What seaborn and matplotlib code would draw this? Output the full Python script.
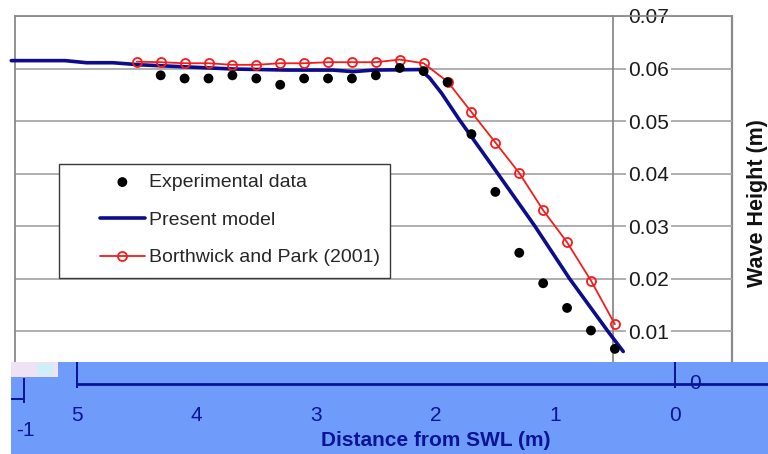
import matplotlib
matplotlib.use("Agg")
import matplotlib.pyplot as plt
from matplotlib.patches import Rectangle
import seaborn as sns
import pandas as pd

# ---------------- data ----------------
exp_x = [4.3, 4.1, 3.9, 3.7, 3.5, 3.3, 3.1, 2.9, 2.7, 2.5, 2.3, 2.1, 1.9, 1.7,
         1.5, 1.3, 1.1, 0.9, 0.7, 0.5]
exp_y = [0.0587, 0.0581, 0.0581, 0.0587, 0.0581, 0.0569, 0.0581, 0.0581, 0.0581,
         0.0587, 0.0601, 0.0595, 0.0574, 0.0475, 0.0365, 0.0249, 0.0191, 0.0144,
         0.0101, 0.0066]

model_x = [5.55, 5.10, 4.92, 4.70, 4.47, 4.08, 3.69, 3.24, 2.86, 2.69, 2.52, 2.13,
           2.05, 1.95, 1.80, 1.48, 1.17, 0.88, 0.56, 0.43]
model_y = [0.0615, 0.0615, 0.0611, 0.0611, 0.0607, 0.0603, 0.0599, 0.0597, 0.0597,
           0.0594, 0.0597, 0.0598, 0.0582, 0.0553, 0.0502, 0.0400, 0.0300, 0.0200,
           0.0100, 0.0061]

bp_x = [4.5, 4.3, 4.1, 3.9, 3.7, 3.5, 3.3, 3.1, 2.9, 2.7, 2.5, 2.3, 2.1, 1.9,
        1.7, 1.5, 1.3, 1.1, 0.9, 0.7, 0.5]
bp_y = [0.0613, 0.0612, 0.0610, 0.0610, 0.0607, 0.0607, 0.0610, 0.0610, 0.0612,
        0.0612, 0.0612, 0.0617, 0.0610, 0.0575, 0.0517, 0.0459, 0.0401, 0.0330,
        0.0269, 0.0196, 0.0113]

yticks = [0.01, 0.02, 0.03, 0.04, 0.05, 0.06, 0.07]
ytick_labels = ["0.01", "0.02", "0.03", "0.04", "0.05", "0.06", "0.07"]
xticks = [5, 4, 3, 2, 1, 0]
xtick_labels = ["5", "4", "3", "2", "1", "0"]

labels = ["Experimental data", "Present model", "Borthwick and Park (2001)"]
ylabel = "Wave Height (m)"
xlabel = "Distance from SWL (m)"

# ---------------- style ----------------
sns.set_style("white")
plt.rcParams["font.family"] = ["Liberation Sans", "DejaVu Sans"]

W, H = 768, 454
fig = plt.figure(figsize=(W / 100, H / 100), dpi=100)

def fx(px):
    return px / W

def fy(py):
    return 1 - py / H

GRAY = "#8a8a8a"
GRID = "#a8a8a8"
NAVY = "#0c0c8c"
RED = "#f41c1c"
DBLUE = "#0a1496"
BAND = "#6f9cfb"

# ---------------- main chart ----------------
ax = fig.add_axes([fx(15), fy(362), fx(732) - fx(15), fy(16) - fy(362)])
ax.set_xlim(5.519, -0.480)
ax.set_ylim(0.0041, 0.0700)

df_exp = pd.DataFrame({"x": exp_x, "y": exp_y})
df_mod = pd.DataFrame({"x": model_x, "y": model_y})
df_bp = pd.DataFrame({"x": bp_x, "y": bp_y})

sns.lineplot(data=df_mod, x="x", y="y", ax=ax, color=NAVY, lw=2.6, sort=False,
             label=labels[1], zorder=3, clip_on=False)
sns.lineplot(data=df_bp, x="x", y="y", ax=ax, color=RED, lw=1.3, sort=False,
             marker="o", markersize=6.5, markerfacecolor="none",
             markeredgecolor=RED, markeredgewidth=1.3, label=labels[2], zorder=4)
sns.scatterplot(data=df_exp, x="x", y="y", ax=ax, color="black", s=50,
                edgecolor="none", label=labels[0], zorder=5)

ax.set_xlabel("")
ax.set_ylabel("")
ax.set_xticks([])
ax.set_yticks(yticks)
ax.set_yticklabels(ytick_labels)

ax.spines["bottom"].set_visible(False)
for s in ["left", "top"]:
    ax.spines[s].set_color(GRAY)
    ax.spines[s].set_linewidth(1.3)
ax.spines["right"].set_position(("data", 0.513))
ax.spines["right"].set_color(GRAY)
ax.spines["right"].set_linewidth(1.3)
ax.yaxis.set_ticks_position("right")
ax.yaxis.set_label_position("right")
ax.tick_params(axis="y", length=0, pad=10.5, labelsize=15, labelcolor="#1a1a1a")
ax.grid(axis="y", color=GRID, lw=1.3)
ax.grid(axis="x", visible=False)
ax.set_axisbelow("line")
for lbl in ax.get_yticklabels():
    lbl.set_bbox(dict(facecolor="white", edgecolor="none", pad=1.5))
ax.axvline(ax.get_xlim()[1], color=GRAY, lw=1.6, clip_on=False, zorder=1)

# legend box + legend
ax.add_patch(Rectangle((fx(59), fy(278)), fx(390) - fx(59), fy(164) - fy(278),
                       transform=fig.transFigure, facecolor="white",
                       edgecolor="#3a3a3a", lw=1.0, zorder=6, clip_on=False))
h, l = ax.get_legend_handles_labels()
order = [l.index(name) for name in labels]
leg = ax.legend([h[i] for i in order], [l[i] for i in order],
                loc="center left", bbox_to_anchor=(fx(100), fy(220)),
                bbox_transform=fig.transFigure, frameon=False, fontsize=14,
                handlelength=2.3, handletextpad=0.2, labelspacing=1.03,
                borderpad=0, borderaxespad=0)
leg.set_zorder(7)

fig.text(fx(757), fy(203), ylabel, rotation=90, ha="center", va="center",
         fontsize=15.5, fontweight="bold", color="#111111")

# ---------------- blue band with distance axis ----------------
ax2 = fig.add_axes([fx(11), 0, 1 - fx(11), fy(362)])
ax2.set_facecolor(BAND)
ax2.set_xlim(5.553, -0.781)
ax2.set_ylim(-0.01343, 0.0041)
for s in ["left", "right", "top"]:
    ax2.spines[s].set_visible(False)
ax2.spines["bottom"].set_position(("data", 0))
ax2.spines["bottom"].set_bounds(5, -0.781)
ax2.spines["bottom"].set_color(DBLUE)
ax2.spines["bottom"].set_linewidth(2)
ax2.set_yticks([])
ax2.set_xticks(xticks)
ax2.set_xticklabels(xtick_labels)
ax2.tick_params(axis="x", direction="out", length=4, width=1.4, color=DBLUE,
                labelcolor=DBLUE, labelsize=15, pad=12.5)
ax2.vlines([xticks[0], xticks[-1]], -0.0009, 0.0041, color=DBLUE, lw=1.4)
# remnant of the other axis on the left
ax2.vlines([5.444], -0.0037, 0.00105, color=DBLUE, lw=1.4)
ax2.hlines([-0.00295], 5.553, 5.444, color=DBLUE, lw=1.4)
ax2.text(5.436, -0.0089, "-1", color=DBLUE, fontsize=15, ha="center", va="center")
ax2.text(-0.17, 0.0, "0", color=DBLUE, fontsize=15, ha="center", va="center")
ax2.text(2.0, -0.01095, xlabel, color=DBLUE, fontsize=15, fontweight="bold",
         ha="center", va="center")
ax2.add_patch(Rectangle((0, 0.84), 0.062, 0.16, transform=ax2.transAxes,
                        facecolor="#efe2f4", edgecolor="none"))
ax2.add_patch(Rectangle((0.035, 0.86), 0.02, 0.12, transform=ax2.transAxes,
                        facecolor="#cfeff8", edgecolor="none"))

fig.savefig("out.png", dpi=100)
